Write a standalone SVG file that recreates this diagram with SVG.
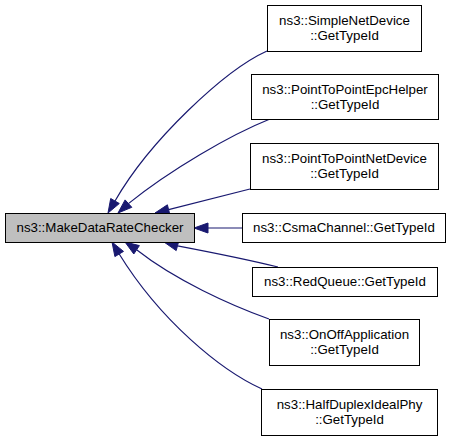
<svg xmlns="http://www.w3.org/2000/svg" width="451" height="440" viewBox="0 0 451 440">
<style>
.node rect{fill:#ffffff;stroke:#000000;stroke-width:1}
.node.main rect{fill:#bfbfbf}
.node text{font-family:"Liberation Sans",Arial,Helvetica,sans-serif;font-size:13.3px;fill:#000000;text-anchor:middle}
.edges path{fill:none;stroke:#191970;stroke-width:1.2}
.edges polygon{fill:#191970;stroke:#191970;stroke-width:1}
</style>
<rect width="451" height="440" fill="#ffffff"/>
<g class="edges" id="edges">
<path d="M267,51 C225,70 150,140 115,201"/>
<polygon points="108,213 119.3,203.5 110.7,198.5"/>
<path d="M270,119 C230,135 170,170 128.4,203.6"/>
<polygon points="118,213 131.8,207.3 125.1,199.9"/>
<path d="M250,189 L168.6,209.6"/>
<polygon points="155,213 169.8,214.4 167.4,204.8"/>
<path d="M242,228 L208,228"/>
<polygon points="194,228 208,223 208,233"/>
<path d="M278,267 C250,260 210,252 177.5,245.8"/>
<polygon points="164,242 178.8,241 176.2,250.6"/>
<path d="M269,319 C230,305 175,280 136.6,249.8"/>
<polygon points="125,242 139.4,245.6 133.8,254"/>
<path d="M262,389 C220,370 160,320 119.2,254"/>
<polygon points="112,242 123.5,251.4 114.9,256.6"/>
</g>
<g class="node main" id="node-main">
<rect x="5.5" y="213.5" width="189" height="29"/>
<text x="100" y="232">ns3::MakeDataRateChecker</text>
</g>
<g class="node" id="node-simplenetdevice">
<rect x="267.5" y="5.5" width="154" height="46"/>
<text x="344.5" y="24.5">ns3::SimpleNetDevice</text>
<text x="344.5" y="39.5">::GetTypeId</text>
</g>
<g class="node" id="node-pointtopointepchelper">
<rect x="251.5" y="74.5" width="187" height="45"/>
<text x="345" y="93.5">ns3::PointToPointEpcHelper</text>
<text x="345" y="108.5">::GetTypeId</text>
</g>
<g class="node" id="node-pointtopointnetdevice">
<rect x="250.5" y="143.5" width="188" height="46"/>
<text x="344.5" y="162.5">ns3::PointToPointNetDevice</text>
<text x="344.5" y="177.5">::GetTypeId</text>
</g>
<g class="node" id="node-csmachannel">
<rect x="242.5" y="213.5" width="203" height="29"/>
<text x="344" y="232">ns3::CsmaChannel::GetTypeId</text>
</g>
<g class="node" id="node-redqueue">
<rect x="252.5" y="267.5" width="185" height="29"/>
<text x="345" y="286">ns3::RedQueue::GetTypeId</text>
</g>
<g class="node" id="node-onoffapplication">
<rect x="269.5" y="319.5" width="150" height="46"/>
<text x="344.5" y="338.5">ns3::OnOffApplication</text>
<text x="344.5" y="353.5">::GetTypeId</text>
</g>
<g class="node" id="node-halfduplexidealphy">
<rect x="261.5" y="389.5" width="176" height="46"/>
<text x="349.5" y="408.5">ns3::HalfDuplexIdealPhy</text>
<text x="349.5" y="423.5">::GetTypeId</text>
</g>
</svg>
